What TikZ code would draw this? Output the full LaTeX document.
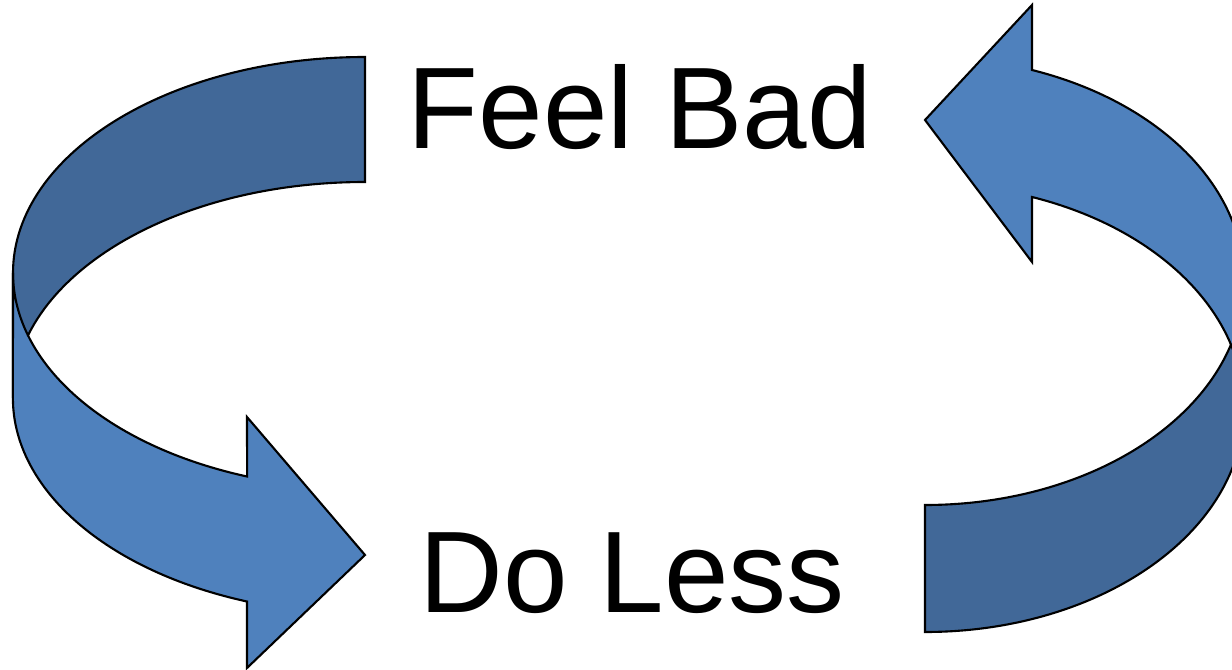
\documentclass[tikz,border=0pt]{standalone}
\usepackage{fontspec}
\setmainfont{Liberation Sans}
\usepackage{tikz}
\usetikzlibrary{positioning}
\usepackage{xcolor}
\definecolor{bandlight}{RGB}{79,129,189}
\definecolor{banddark}{RGB}{65,104,152}

\begin{document}
\begin{tikzpicture}[
  band/.style={draw=black, line width=0.6pt, line join=miter},
  cycletext/.style={font=\fontsize{33}{40}\selectfont, inner sep=0pt, anchor=base}
]
  \useasboundingbox (0,0) rectangle (12.32,6.69);
  \clip (0,0) rectangle (12.32,6.69);
  % left arrow, back half
  \draw[band, fill=banddark] (3.65,6.12) arc[start angle=90, end angle=180, x radius=3.52, y radius=2.16]
    -- (0.13,2.71) arc[start angle=180, end angle=90, x radius=3.52, y radius=2.16] -- cycle;
  % left arrow, front half with head
  \draw[band, fill=bandlight] (0.13,3.96) arc[start angle=180, end angle=250.43, x radius=3.52, y radius=2.16]
    -- (2.47,2.52) -- (3.65,1.14) -- (2.47,0.01) -- (2.47,0.675)
    arc[start angle=250.43, end angle=180, x radius=3.52, y radius=2.16] -- cycle;
  % right arrow, back half
  \draw[band, fill=banddark] (9.25,0.37) arc[start angle=270, end angle=360, x radius=3.19, y radius=2.24]
    -- (12.44,3.88) arc[start angle=0, end angle=-90, x radius=3.19, y radius=2.24] -- cycle;
  % right arrow, front half with head
  \draw[band, fill=bandlight] (12.44,2.61) arc[start angle=0, end angle=70.4, x radius=3.19, y radius=2.24]
    -- (10.32,4.07) -- (9.25,5.49) -- (10.32,6.64) -- (10.32,5.99)
    arc[start angle=70.4, end angle=0, x radius=3.19, y radius=2.24] -- cycle;
  % labels
  \node[cycletext] (feelbad) at (6.40,5.21) {Feel Bad};
  \node[cycletext] (doless) at (6.32,0.57) {Do Less};
\end{tikzpicture}
\end{document}
